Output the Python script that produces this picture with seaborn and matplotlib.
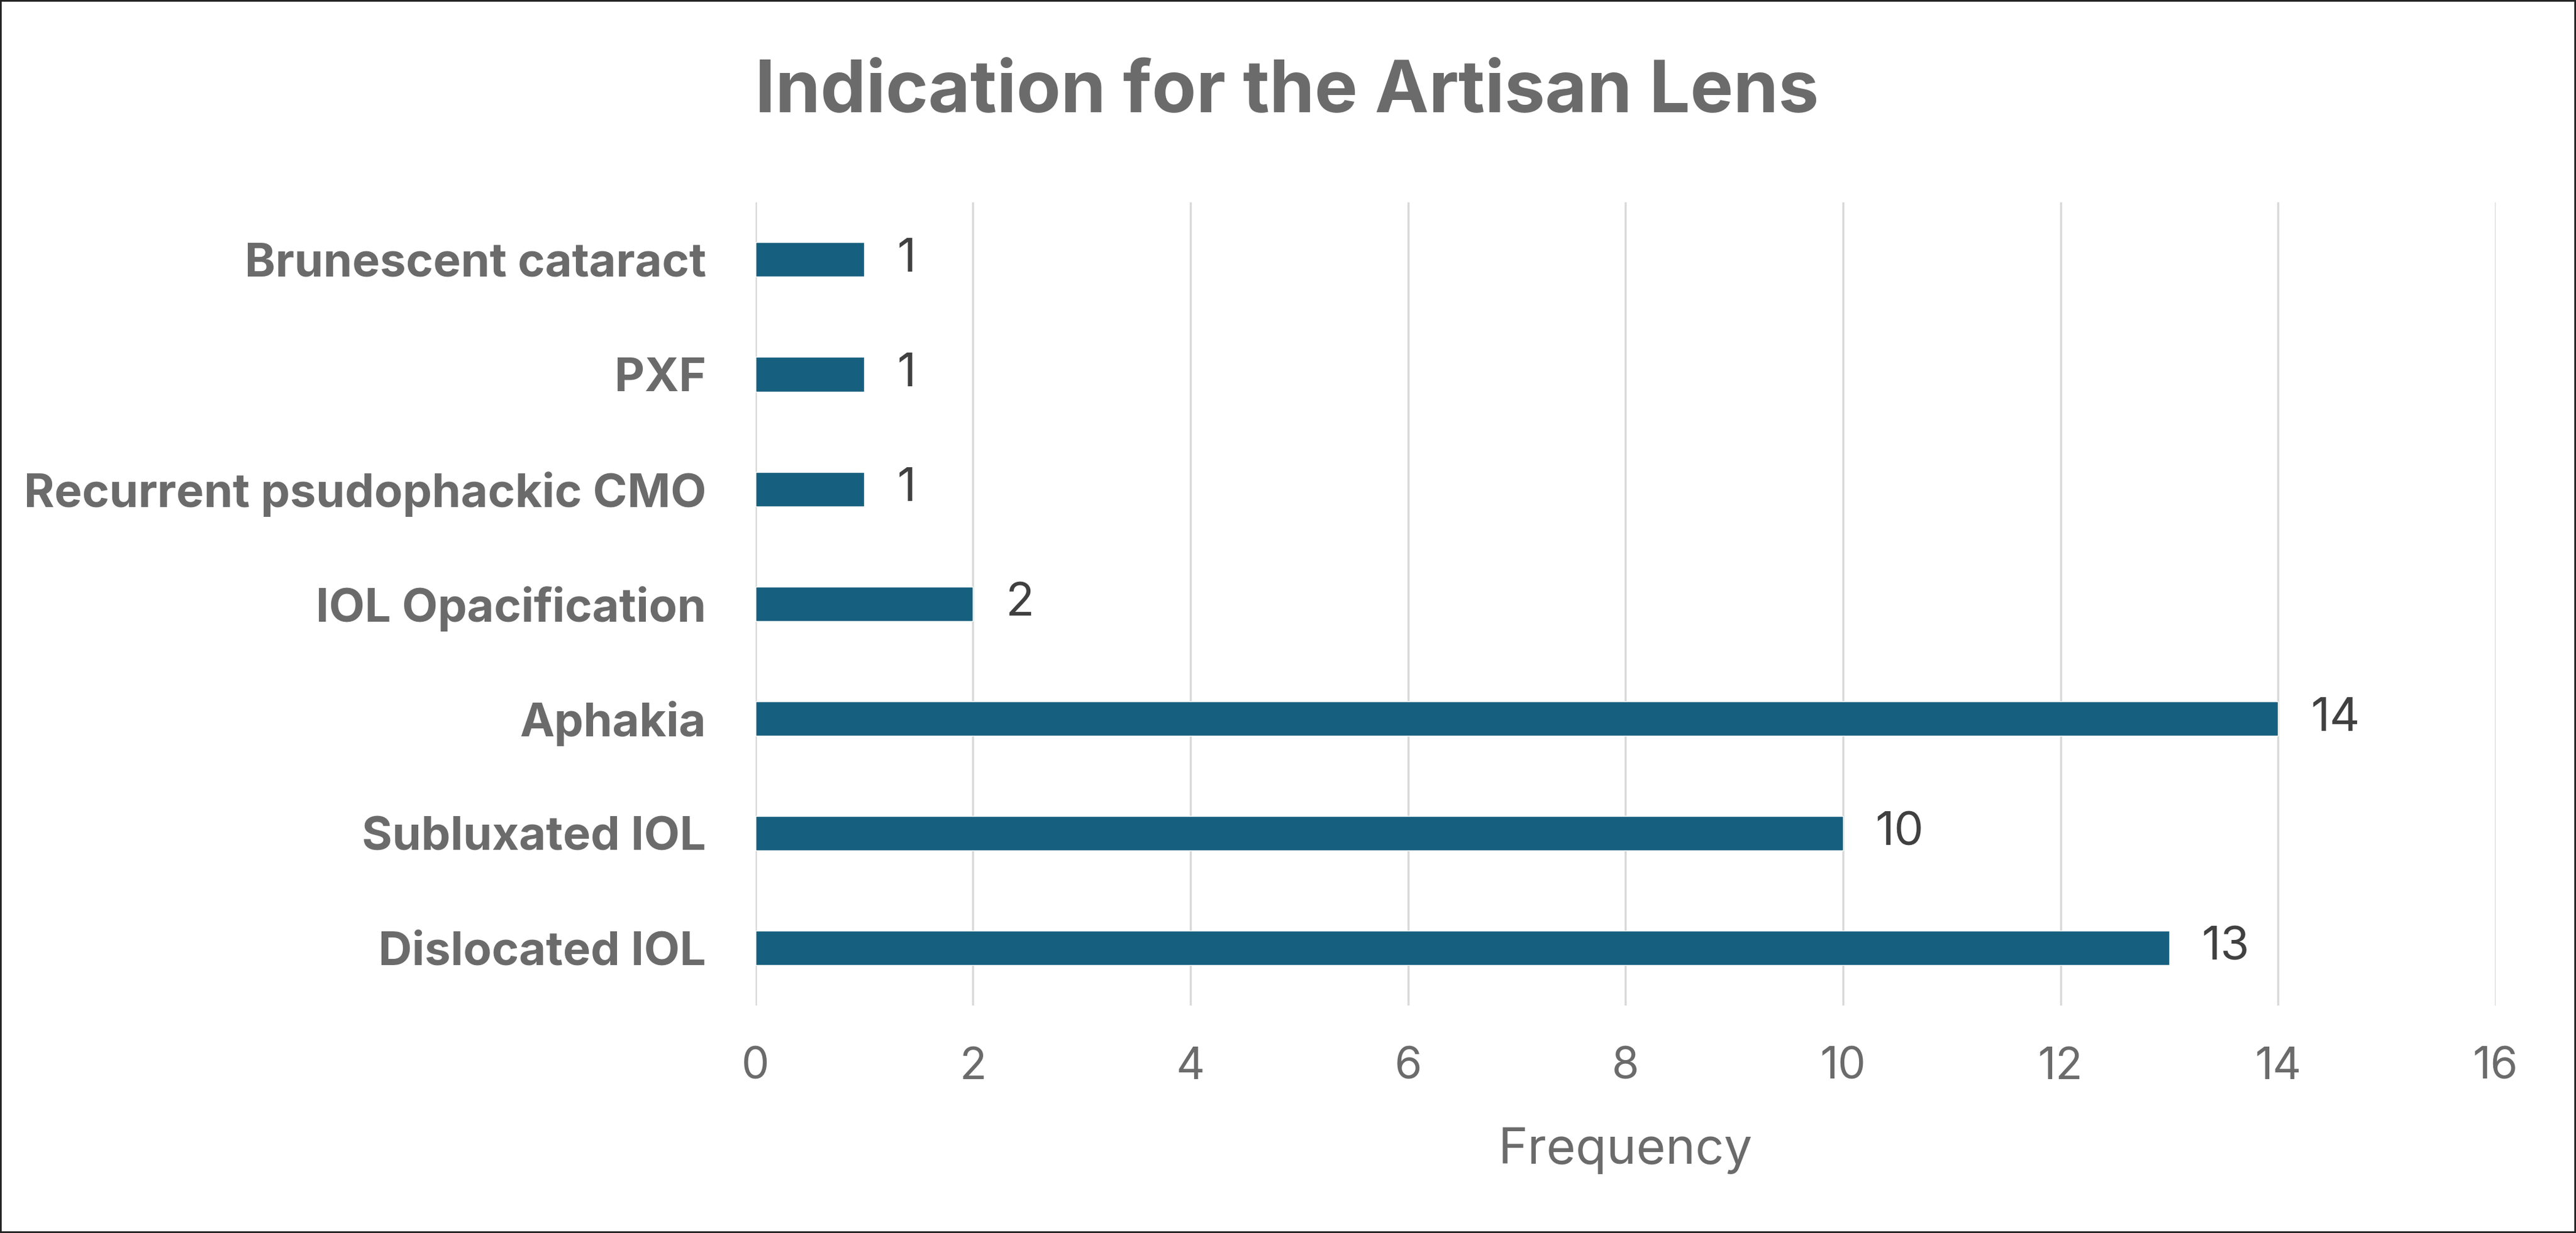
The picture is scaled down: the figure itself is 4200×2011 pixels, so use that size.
import matplotlib
matplotlib.use("Agg")
import matplotlib.pyplot as plt
import seaborn as sns
import pandas as pd
from matplotlib.patches import Rectangle

categories = ["Brunescent cataract", "PXF", "Recurrent psudophackic CMO",
              "IOL Opacification", "Aphakia", "Subluxated IOL", "Dislocated IOL"]
frequency = [1, 1, 1, 2, 14, 10, 13]
x_ticks = [0, 2, 4, 6, 8, 10, 12, 14, 16]
title = "Indication for the Artisan Lens"
x_label = "Frequency"

df = pd.DataFrame({"Indication": categories, "Frequency": frequency})

sns.set_theme(style="white")
plt.rcParams["font.family"] = ["Inter", "DejaVu Sans"]

BAR = "#175F7E"
GRAY = "#6B6B6B"
DARK = "#404040"

fig = plt.figure(figsize=(42, 20.11), dpi=100)
ax = fig.add_axes([0.2933, 0.1845, 0.6755, 0.6515])

sns.barplot(data=df, x="Frequency", y="Indication", order=categories,
            color=BAR, width=0.3, saturation=1, ax=ax, zorder=3)

ax.set_xlim(0, 16)
ax.set_ylim(6.5, -0.5)
ax.set_xticks(x_ticks)
ax.set_xticklabels([str(t) for t in x_ticks], fontsize=52, color=GRAY)
ax.tick_params(axis="x", length=0, pad=48)
ax.tick_params(axis="y", length=0, pad=58)
for lbl in ax.get_yticklabels():
    lbl.set_fontsize(54.5)
    lbl.set_fontweight("bold")
    lbl.set_color(GRAY)

ax.grid(axis="x", color="#D9D9D9", linewidth=2.5, zorder=0)
ax.grid(axis="y", visible=False)
for s in ax.spines.values():
    s.set_visible(False)

ax.set_ylabel("")
ax.set_xlabel(x_label, fontsize=59, color=GRAY, labelpad=46)

for cont in ax.containers:
    ax.bar_label(cont, labels=[str(v) for v in frequency], padding=38,
                 fontsize=55, color=DARK)

fig.suptitle(title, x=0.4995, y=0.952, fontsize=85, fontweight="bold", color=GRAY)

fig.patches.append(Rectangle((0, 0), 1, 1, transform=fig.transFigure,
                             fill=False, edgecolor="#222222", linewidth=4))

fig.savefig("out.png", dpi=100, facecolor="white")
